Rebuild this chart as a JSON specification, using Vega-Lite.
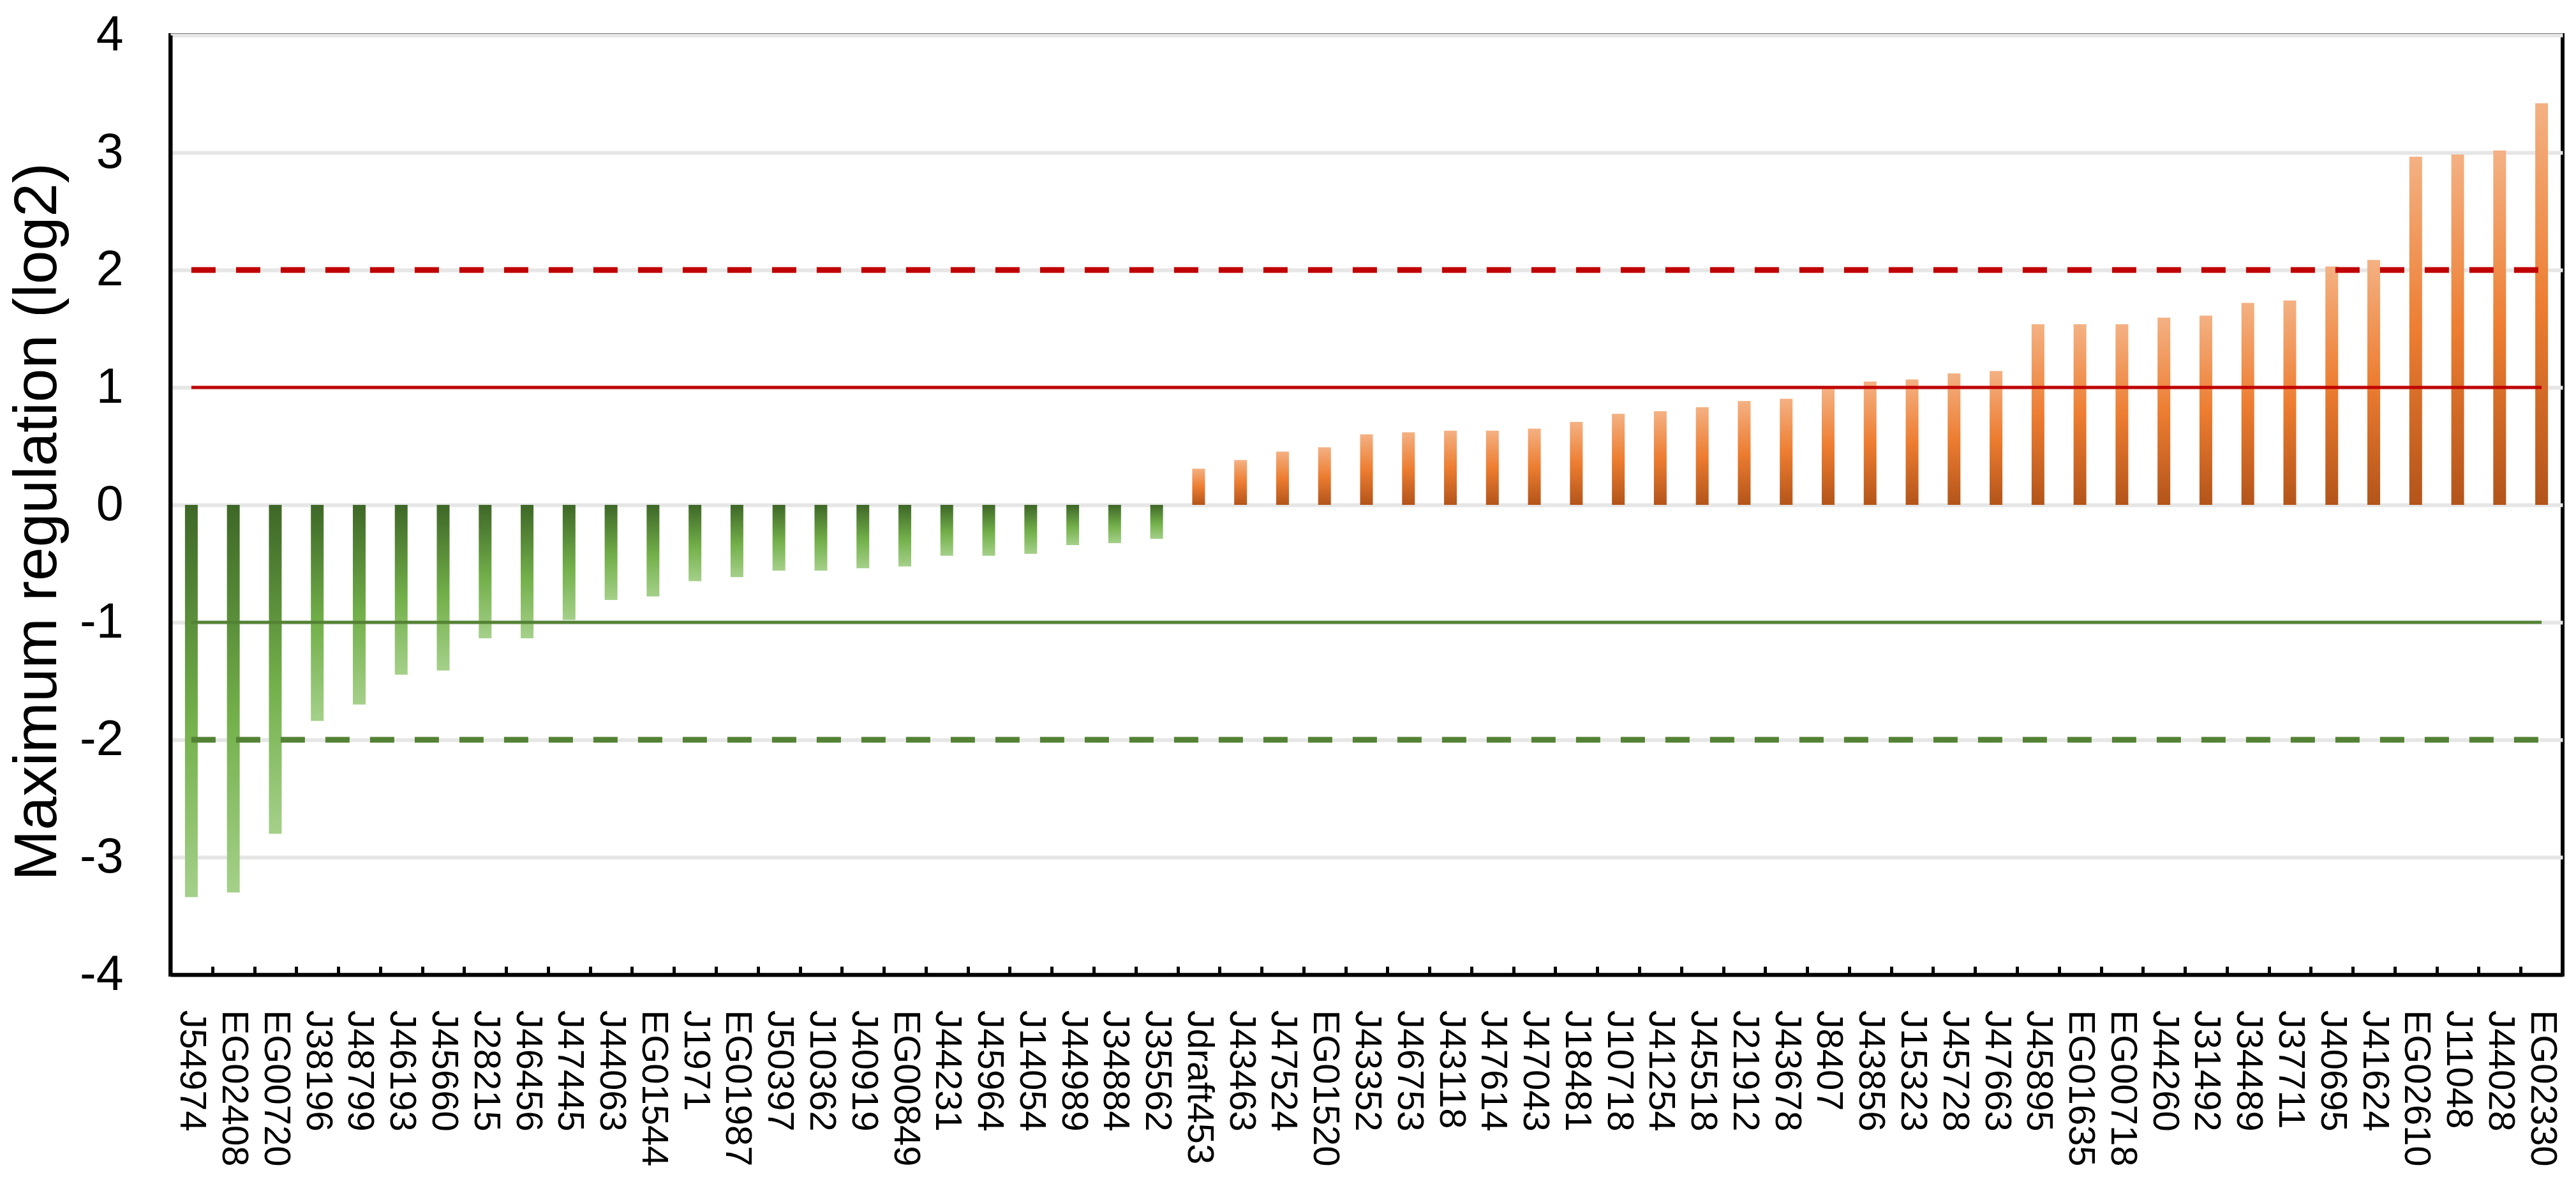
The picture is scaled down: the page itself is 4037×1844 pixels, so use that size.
{
  "$schema": "https://vega.github.io/schema/vega-lite/v6.json",
  "autosize": {"type": "none"},
  "width": 3749,
  "height": 1472,
  "padding": {"left": 267, "top": 55, "right": 21, "bottom": 317},
  "background": "white",
  "config": {
    "view": {"stroke": "black", "strokeWidth": 6},
    "font": "Liberation Sans"
  },
  "datasets": {
    "genes": [
      {"gene": "J54974", "value": -3.34},
      {"gene": "EG02408", "value": -3.30},
      {"gene": "EG00720", "value": -2.80},
      {"gene": "J38196", "value": -1.84},
      {"gene": "J48799", "value": -1.70},
      {"gene": "J46193", "value": -1.445},
      {"gene": "J45660", "value": -1.41},
      {"gene": "J28215", "value": -1.136},
      {"gene": "J46456", "value": -1.136},
      {"gene": "J47445", "value": -0.98},
      {"gene": "J44063", "value": -0.81},
      {"gene": "EG01544", "value": -0.78},
      {"gene": "J1971", "value": -0.65},
      {"gene": "EG01987", "value": -0.615},
      {"gene": "J50397", "value": -0.56},
      {"gene": "J10362", "value": -0.56},
      {"gene": "J40919", "value": -0.54},
      {"gene": "EG00849", "value": -0.525},
      {"gene": "J44231", "value": -0.434},
      {"gene": "J45964", "value": -0.434},
      {"gene": "J14054", "value": -0.417},
      {"gene": "J44989", "value": -0.342},
      {"gene": "J34884", "value": -0.326},
      {"gene": "J35562", "value": -0.29},
      {"gene": "Jdraft453", "value": 0.309},
      {"gene": "J43463", "value": 0.382},
      {"gene": "J47524", "value": 0.454},
      {"gene": "EG01520", "value": 0.491},
      {"gene": "J43352", "value": 0.600},
      {"gene": "J46753", "value": 0.618},
      {"gene": "J43118", "value": 0.632},
      {"gene": "J47614", "value": 0.632},
      {"gene": "J47043", "value": 0.65},
      {"gene": "J18481", "value": 0.706},
      {"gene": "J10718", "value": 0.776},
      {"gene": "J41254", "value": 0.797},
      {"gene": "J45518", "value": 0.832},
      {"gene": "J21912", "value": 0.885},
      {"gene": "J43678", "value": 0.903},
      {"gene": "J8407", "value": 0.99},
      {"gene": "J43856", "value": 1.05},
      {"gene": "J15323", "value": 1.068},
      {"gene": "J45728", "value": 1.12},
      {"gene": "J47663", "value": 1.14},
      {"gene": "J45895", "value": 1.538},
      {"gene": "EG01635", "value": 1.538},
      {"gene": "EG00718", "value": 1.538},
      {"gene": "J44260", "value": 1.594},
      {"gene": "J31492", "value": 1.612},
      {"gene": "J34489", "value": 1.72},
      {"gene": "J37711", "value": 1.74},
      {"gene": "J40695", "value": 2.03},
      {"gene": "J41624", "value": 2.085},
      {"gene": "EG02610", "value": 2.964},
      {"gene": "J11048", "value": 2.984},
      {"gene": "J44028", "value": 3.018},
      {"gene": "EG02330", "value": 3.42}
    ],
    "thresholds": [
      {"level": 1, "kind": "solid", "dir": "up"},
      {"level": 2, "kind": "dashed", "dir": "up"},
      {"level": -1, "kind": "solid", "dir": "down"},
      {"level": -2, "kind": "dashed", "dir": "down"}
    ]
  },
  "data": {"name": "genes"},
  "encoding": {
    "x": {
      "field": "gene",
      "type": "nominal",
      "sort": null,
      "scale": {"paddingInner": 0, "paddingOuter": 0},
      "axis": {
        "title": null,
        "labelAngle": 90,
        "labelAlign": "left",
        "labelBaseline": "middle",
        "labelFont": "Liberation Sans",
        "labelFontSize": 58,
        "labelColor": "black",
        "labelPadding": 68,
        "labelLimit": 0,
        "labelOverlap": false,
        "labelBound": false,
        "tickBand": "extent",
        "tickSize": -13,
        "tickWidth": 5,
        "tickColor": "black",
        "domainColor": "black",
        "domainWidth": 6,
        "grid": false
      }
    }
  },
  "layer": [
    {
      "transform": [{"filter": "datum.value < 0"}],
      "mark": {
        "type": "bar",
        "size": 20,
        "color": {
          "gradient": "linear",
          "x1": 0, "y1": 0, "x2": 0, "y2": 1,
          "stops": [
            {"offset": 0, "color": "#3e6727"},
            {"offset": 0.55, "color": "#73b04a"},
            {"offset": 1, "color": "#a5d08a"}
          ]
        }
      },
      "encoding": {
        "y": {
          "field": "value",
          "type": "quantitative",
          "scale": {"domain": [-4, 4], "nice": false, "zero": false},
          "axis": {
            "values": [-4, -3, -2, -1, 0, 1, 2, 3, 4],
            "labelExpr": "'' + datum.value",
            "title": "Maximum regulation (log2)",
            "titleFont": "Liberation Sans",
            "titleFontSize": 95,
            "titleFontWeight": "normal",
            "titleColor": "black",
            "titleAngle": -90,
            "titleBaseline": "alphabetic",
            "titleAlign": "center",
            "titleX": -180,
            "titleY": 762,
            "labelFont": "Liberation Sans",
            "labelFontSize": 77,
            "labelColor": "black",
            "labelPadding": 74,
            "labelBaseline": "middle",
            "ticks": false,
            "grid": true,
            "gridColor": "#e6e6e6",
            "gridWidth": 6,
            "domainColor": "black",
            "domainWidth": 6
          }
        }
      }
    },
    {
      "transform": [{"filter": "datum.value >= 0"}],
      "mark": {
        "type": "bar",
        "size": 20,
        "color": {
          "gradient": "linear",
          "x1": 0, "y1": 0, "x2": 0, "y2": 1,
          "stops": [
            {"offset": 0, "color": "#f4b183"},
            {"offset": 0.5, "color": "#ed7d31"},
            {"offset": 1, "color": "#b3541a"}
          ]
        }
      },
      "encoding": {
        "y": {"field": "value", "type": "quantitative"}
      }
    },
    {
      "data": {"name": "thresholds"},
      "transform": [{"filter": "datum.kind === 'solid'"}],
      "mark": {"type": "rule", "strokeWidth": 5},
      "encoding": {
        "x": {"datum": "J54974"},
        "x2": {"datum": "EG02330"},
        "y": {"field": "level", "type": "quantitative"},
        "color": {
          "field": "dir",
          "type": "nominal",
          "scale": {"domain": ["up", "down"], "range": ["#c00000", "#548235"]},
          "legend": null
        }
      }
    },
    {
      "data": {"name": "thresholds"},
      "transform": [{"filter": "datum.kind === 'dashed'"}],
      "mark": {"type": "rule", "strokeWidth": 9, "strokeDash": [38, 32], "strokeCap": "butt"},
      "encoding": {
        "x": {"datum": "J54974"},
        "x2": {"datum": "EG02330"},
        "y": {"field": "level", "type": "quantitative"},
        "color": {
          "field": "dir",
          "type": "nominal",
          "scale": {"domain": ["up", "down"], "range": ["#c00000", "#548235"]},
          "legend": null
        }
      }
    }
  ]
}
